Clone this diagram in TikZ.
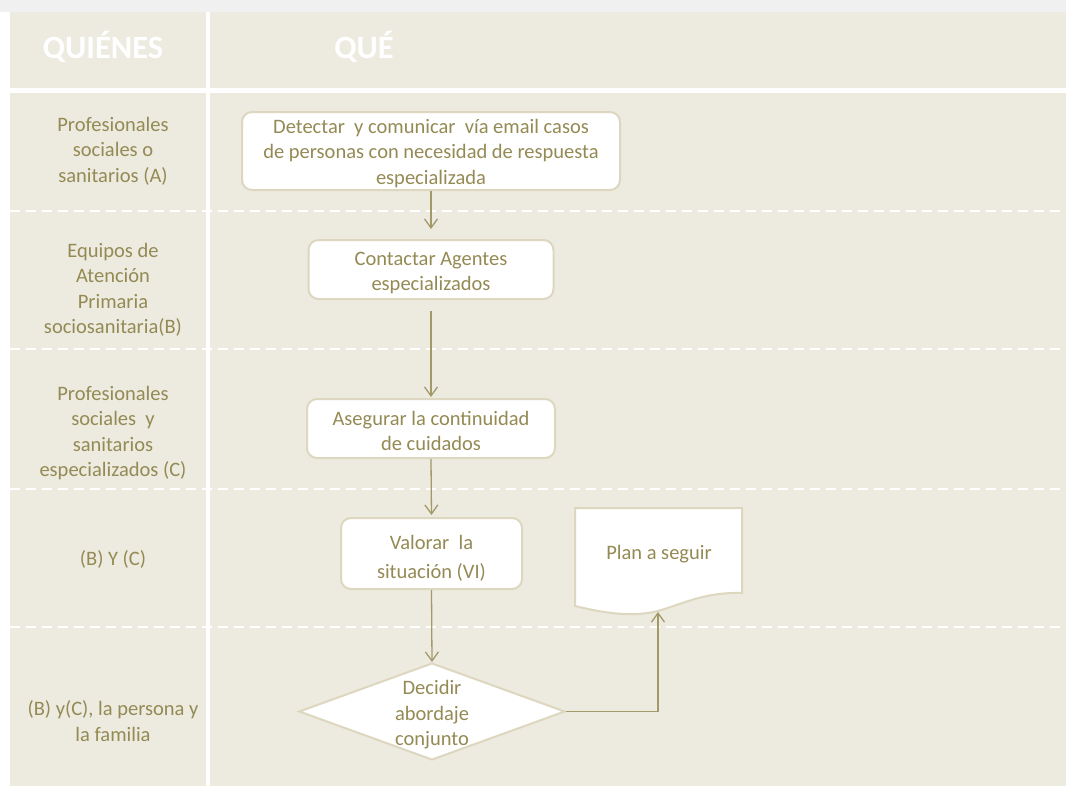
\documentclass[tikz,border=0pt]{standalone}
\usepackage{fontspec}
\setmainfont{Carlito}
\usetikzlibrary{arrows.meta,shapes.geometric}
\definecolor{panel}{HTML}{EDEAE0}
\definecolor{txt}{HTML}{948A54}
\definecolor{lin}{HTML}{A39A6A}
\definecolor{bord}{HTML}{DDD7C0}
\definecolor{outer}{HTML}{F0F0F0}
\begin{document}
\begin{tikzpicture}[x=1pt,y=-1pt,
  lab/.style={text=txt,font=\fontsize{20.5}{25.5}\selectfont,align=center,inner sep=0},
  box/.style={draw=bord,line width=2pt,fill=white,rounded corners=10pt,text=txt,
    font=\fontsize{20.5}{25.5}\selectfont,align=center,inner sep=0},
  arr/.style={draw=lin,line width=1.3pt,-{Straight Barb[length=9pt,width=13pt]}},
  sepline/.style={white,line width=2pt,dash pattern=on 10pt off 6pt},
  head/.style={text=white,font=\bfseries\fontsize{32.5}{36}\selectfont,inner sep=0}]
\useasboundingbox (0,0) rectangle (1066,787);
\fill[white] (0,0) rectangle (1066,787);
\fill[outer] (0,0) rectangle (1066,12);
\fill[panel] (10,12) rectangle (1066,786);
% white grid lines
\fill[white] (206,12) rectangle (210,786);
\fill[white] (10,88) rectangle (1066,93);
\foreach \yy in {211,349,489,627} \draw[sepline] (10,\yy) -- (1066,\yy);
% headers
\node[head] (hq) at (103,47) {QUIÉNES};
\node[head] (hw) at (364,47) {QUÉ};
% left labels
\node[lab] (l1) at (113,151) {Profesionales\\sociales o\\sanitarios (A)};
\node[lab] (l2) at (113,290) {Equipos de\\Atención\\Primaria\\sociosanitaria(B)};
\node[lab] (l3) at (113,433) {Profesionales\\sociales\ \ y\\sanitarios\\especializados (C)};
\node[lab] (l4) at (113,559) {(B) Y (C)};
\node[lab] (l5) at (113,721) {(B) y(C), la persona y\\la familia};
% process boxes
\node[box,minimum width=378,minimum height=78] (b1) at (431,151)
  {\rule{0pt}{19pt}Detectar\ \ y comunicar\ \ vía email casos\\de personas con necesidad de respuesta\\especializada};
\node[box,minimum width=245,minimum height=59] (b2) at (431,269.5)
  {\rule{0pt}{20pt}Contactar Agentes\\especializados};
\node[box,minimum width=248,minimum height=59] (b3) at (431,428.5)
  {\rule{0pt}{19pt}Asegurar la continuidad\\de cuidados};
\node[box,minimum width=181,minimum height=71] (b4) at (431.5,553.5)
  {\rule{0pt}{24pt}Valorar\ \ la\\[3pt]situación (VI)};
% document shape
\draw[draw=bord,line width=2pt,fill=white] (575,508) -- (742,508) -- (742,593)
  .. controls (705,592) and (685,603) .. (658,611)
  .. controls (630,618) and (600,612) .. (575,606) -- cycle;
\node[lab] (plan) at (659,554) {Plan a seguir};
\coordinate (docb) at (658,612);
% decision
\node[diamond,draw=bord,line width=2pt,fill=white,minimum width=266,minimum height=97,inner sep=0] (dec) at (432,711.5) {};
\node[lab] (dect) at (432,715) {Decidir\\abordaje\\conjunto};
% connectors
\draw[arr,shorten >=10pt] (b1.south) -- (b2.north);
\draw[arr,shorten <=11pt,shorten >=1pt] (b2.south) -- (b3.north);
\draw[arr,shorten >=2pt] (b3.south) -- (b4.north);
\draw[arr] (b4.south) -- (dec.north);
\draw[arr] (dec.east) -| (docb);
\end{tikzpicture}
\end{document}
